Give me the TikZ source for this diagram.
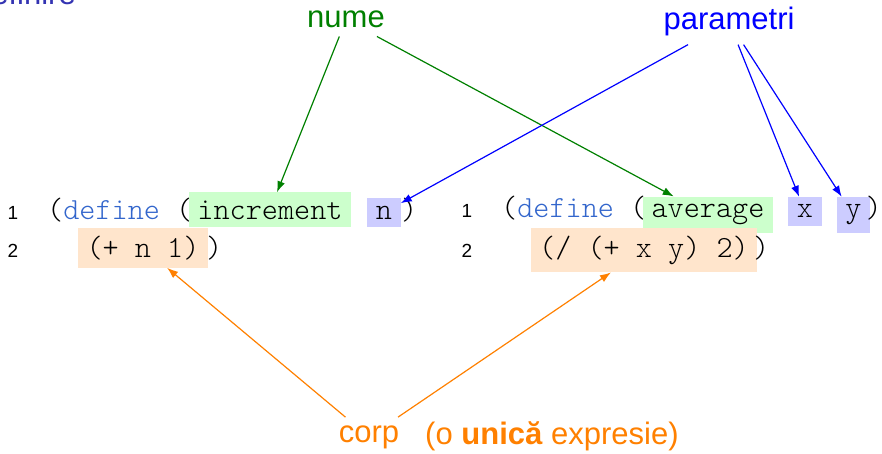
\documentclass[tikz,border=0pt]{standalone}
\usepackage{fontspec}
\setmainfont{Liberation Sans}
\setmonofont{lmmonolt10-regular.otf}
\usetikzlibrary{arrows.meta}
\definecolor{kwblue}{rgb}{0.2,0.4,0.8}
\definecolor{titleblue}{rgb}{0.2,0.2,0.7}
\newcommand{\labelfont}{\fontsize{31}{36}\selectfont}
\newcommand{\codefont}{\ttfamily\fontsize{30.7}{34}\selectfont}
\newcommand{\kw}[1]{\textcolor{kwblue}{#1}}
\tikzset{
  lbl/.style={font=\labelfont, inner sep=8pt},
  code/.style={font=\codefont, anchor=base west, inner sep=0pt},
  codebox/.style={font=\codefont, anchor=base, inner xsep=8.5pt, inner ysep=8pt},
  lineno/.style={font=\fontsize{19}{22}\selectfont, anchor=base},
  pointer/.style={-{Latex[length=11pt,width=8pt]}, line width=1.2pt},
}

\begin{document}
\begin{tikzpicture}[x=1pt, y=-1pt]
\useasboundingbox (0,0) rectangle (882,454);
\clip (0,0) rectangle (882,454);
% frame title, cut off at the top
\node[font=\labelfont, text=titleblue, anchor=base east, inner sep=0pt] (title) at (76,5) {Definire};

% first definition
\node[lineno] (lna) at (13,219) {1};
\node[code] (defa) at (47,219) {(\kw{define} (};
\node[codebox, fill=green!20] (incr) at (270,219) {increment};
\node[codebox, fill=blue!20] (parn) at (384,219) {n};
\node[code] (closea) at (401,219) {)};
\node[lineno] (lnb) at (13,257) {2};
\node[codebox, fill=orange!20] (bodya) at (143,257) {(+ n 1)};
\node[code] (closeb) at (206,257) {)};

% second definition
\node[lineno] (lnc) at (467,218) {1};
\node[code] (defb) at (501,218) {(\kw{define} (};
\node[codebox, fill=green!20] (avg) at (708,218) {average};
\node[codebox, fill=blue!20] (parx) at (805,218) {x};
\node[codebox, fill=blue!20] (pary) at (853.5,218) {y};
\node[code, anchor=base east] (closec) at (882,218) {)};
\node[lineno] (lnd) at (467,257) {2};
\node[codebox, fill=orange!20] (bodyb) at (644,257) {(/ (+ x y) 2)};
\node[code] (closed) at (753,257) {)};

% labels
\node[lbl, text=green!50!black, anchor=base] (nume) at (346,28) {nume};
\node[lbl, text=blue, anchor=base] (param) at (729,30) {parametri};
\node[lbl, text=orange, anchor=base] (corp) at (369,442) {corp};
\node[lbl, text=orange, anchor=base west] (corpnote) at (417,444) {(o \textbf{unică} expresie)};

% pointers
\draw[pointer, green!50!black] (nume) -- (incr);
\draw[pointer, green!50!black] (nume) -- (avg);
\draw[pointer, blue] (param) -- (parn);
\draw[pointer, blue] (param) -- (parx);
\draw[pointer, blue] (param) -- (pary);
\draw[pointer, orange] (corp) -- (bodya);
\draw[pointer, orange] (corp) -- (bodyb);
\end{tikzpicture}
\end{document}
